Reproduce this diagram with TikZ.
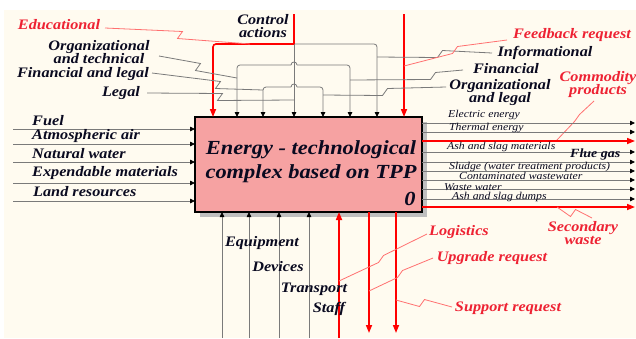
\documentclass[tikz,border=0pt]{standalone}
\usepackage{fontspec}
\setmainfont{Liberation Serif}[FakeStretch=1.12]
\usetikzlibrary{arrows.meta,calc}
\definecolor{bg}{HTML}{FFFBF0}
\definecolor{boxfill}{HTML}{F6A2A2}
\definecolor{lred}{HTML}{EE2233}
\definecolor{tred}{HTML}{FF7070}
\definecolor{lgray}{HTML}{7A7A7A}
\definecolor{ink}{HTML}{0A0A20}
\newcommand\zz[4]{\draw[#1] (#2) -- ($(#3)+(2.5,-3.5)$) -- ($(#3)+(-2.5,3.5)$) -- (#4);}
\begin{document}
\begin{tikzpicture}[x=1pt,y=-1pt,
  lbl/.style={font=\fontsize{14.5}{14}\selectfont\bfseries\itshape, text=ink, inner sep=0pt, align=center},
  rlbl/.style={lbl, text=lred},
  slbl/.style={font=\fontsize{10.5}{10}\selectfont\itshape, text=ink, inner sep=0pt, anchor=west},
  gline/.style={draw=lgray, line width=0.8pt},
  garrow/.style={gline, -{Triangle[length=5pt,width=4.5pt,color=black]}},
  rline/.style={draw=red, line width=1.6pt},
  rarrow/.style={rline, -{Triangle[length=8pt,width=6pt]}},
  tline/.style={draw=tred, line width=0.8pt},
]
\useasboundingbox (0,0) rectangle (636,338);
\fill[bg] (4,10) rectangle (636,338);

% shadow and box
\fill[gray!50] (200,212) rectangle (427,217);
\fill[gray!50] (422,122) rectangle (427,217);
\node[draw=black, line width=1.4pt, fill=boxfill, minimum width=227pt, minimum height=95pt,
      anchor=north west, inner sep=0pt, outer sep=0pt] (box) at (195,117) {};
\node[font=\fontsize{20}{24}\selectfont\bfseries\itshape, text=ink, align=center] (title) at (311,162)
  {Energy - technological\\complex based on TPP};
\node[font=\fontsize{20}{20}\selectfont\bfseries\itshape, text=ink] (num) at (410,199) {0};

% top arrow ends
\foreach \n/\x in {1/213,2/237,3/263,4/294,5/323,6/350,7/377,8/404}
  \coordinate (t\n) at (\x,117);
\coordinate (ca) at (294,14);
\coordinate (cj) at (294,44);
\coordinate (fb) at (404,14);
\coordinate (l2a) at (291,65); \coordinate (l2b) at (297,65);
\coordinate (l3a) at (291,87); \coordinate (l3b) at (297,87);

\draw[garrow] (cj) -- (t4);
\draw[garrow, rounded corners=3pt] (cj) -- (cj -| t7) -- (t7);
\draw[garrow, rounded corners=3pt] (l2a) -- (l2a -| t2) -- (t2);
\draw[gline] (l2a) .. controls (291,61) and (297,61) .. (l2b);
\draw[garrow, rounded corners=3pt] (l2b) -- (l2b -| t6) -- (t6);
\draw[garrow, rounded corners=3pt] (l3a) -- (l3a -| t3) -- (t3);
\draw[gline] (l3a) .. controls (291,83) and (297,83) .. (l3b);
\draw[garrow, rounded corners=3pt] (l3b) -- (l3b -| t5) -- (t5);
\draw[rline] (ca) -- (cj);
\draw[rarrow, rounded corners=3pt] (cj) -- (cj -| t1) -- (t1);
\draw[rarrow] (fb) -- (t8);

% top-left labels
\node[rlbl] (edu) at (59,25) {Educational};
\node[lbl] (ctl) at (263,26) {Control\\[-1pt]actions};
\node[lbl] (orgt) at (99,52) {Organizational\\[-1pt]and technical};
\node[lbl] (finl) at (83,74) {Financial and legal};
\node[lbl] (legal) at (121,93) {Legal};
% top-right labels
\node[rlbl] (feed) at (572,35) {Feedback request};
\node[lbl] (info) at (545,53) {Informational};
\node[lbl] (fin) at (506,69) {Financial};
\node[lbl] (orgl) at (500,93) {Organizational\\[-1pt]and legal};
\node[rlbl] (comm) at (598,85) {Commodity\\[-1pt]products};

% label connectors (top)
\coordinate (e0) at (105,28);  \coordinate (e1) at (250,44);
\coordinate (a0) at (159,56);  \coordinate (a1) at (237,78);
\coordinate (b0) at (152,73);  \coordinate (b1) at (263,90);
\coordinate (c0) at (147,93);  \coordinate (c1) at (294,100);
\coordinate (i0) at (492,53);  \coordinate (i1) at (377,57);
\coordinate (f0) at (463,70);  \coordinate (f1) at (350,80);
\coordinate (g0) at (446,87);  \coordinate (g1) at (323,95);
\coordinate (k0) at (507,40);  \coordinate (k1) at (404,66);
\coordinate (m0) at (594,101); \coordinate (m1) at (556,141);
\zz{tline}{e0}{180,35}{e1}
\zz{gline}{a0}{198,67}{a1}
\zz{gline}{b0}{218,85}{b1}
\zz{gline}{c0}{220,97}{c1}
\zz{gline}{i0}{440,54}{i1}
\zz{gline}{f0}{433,76}{f1}
\zz{gline}{g0}{385,92}{g1}
\zz{tline}{k0}{455,50}{k1}
\zz{tline}{m0}{577,118}{m1}

% left inputs
\foreach \i/\y in {1/129,2/144,3/162,4/183,5/201} {
  \coordinate (in\i) at (13,\y);
  \draw[garrow] (in\i) -- (in\i -| box.west);
}
\node[lbl, anchor=west] (fuel) at (32,121) {Fuel};
\node[lbl, anchor=west] (air) at (32,136) {Atmospheric air};
\node[lbl, anchor=west] (water) at (32,154) {Natural water};
\node[lbl, anchor=west] (exp) at (32,173) {Expendable materials};
\node[lbl, anchor=west] (land) at (33,192) {Land resources};

% right outputs
\foreach \i/\y in {1/123,2/132,3/152,4/162,5/171,6/180,7/189,8/199} {
  \coordinate (o\i) at (635,\y);
  \draw[garrow] (o\i -| box.east) -- (o\i);
}
\foreach \i/\y in {1/141,2/207} {
  \coordinate (ro\i) at (635,\y);
  \draw[rarrow] (ro\i -| box.east) -- (ro\i);
}
\node[slbl] (el) at (448,115) {Electric energy};
\node[slbl] (th) at (449,128) {Thermal energy};
\node[slbl] (ash) at (447,147) {Ash and slag materials};
\node[slbl, font=\fontsize{12.5}{12}\selectfont\bfseries\itshape] (flue) at (570,154) {Flue gas};
\node[slbl] (sl) at (449,167) {Sludge (water treatment products)};
\node[slbl] (cw) at (459,176) {Contaminated wastewater};
\node[slbl] (ww) at (444,187) {Waste water};
\node[slbl] (ad) at (452,197) {Ash and slag dumps};

% secondary waste
\node[rlbl] (sec) at (583,233) {Secondary\\[-1pt]waste};
\coordinate (s0) at (592,218); \coordinate (s1) at (557,207);
\zz{tline}{s0}{573,213}{s1}

% bottom
\foreach \i/\x in {1/222,2/249,3/279,4/309} {
  \coordinate (bm\i) at (\x,338);
  \draw[garrow] (bm\i) -- (bm\i |- box.south);
}
\coordinate (ru) at (339,338);
\draw[rarrow] (ru) -- (ru |- box.south);
\coordinate (rd1) at (369,333);
\coordinate (rd2) at (396,333);
\draw[rarrow] (rd1 |- box.south) -- (rd1);
\draw[rarrow] (rd2 |- box.south) -- (rd2);

\node[lbl] (equip) at (262,243) {Equipment};
\node[lbl] (dev) at (278,267) {Devices};
\node[lbl] (trans) at (314,289) {Transport};
\node[lbl] (staff) at (329,309) {Staff};

\node[rlbl] (log) at (459,232) {Logistics};
\node[rlbl] (upg) at (492,258) {Upgrade request};
\node[rlbl] (sup) at (508,308) {Support request};
\coordinate (p0) at (427,234); \coordinate (p1) at (339,281);
\coordinate (q0) at (433,258); \coordinate (q1) at (369,291);
\coordinate (r0) at (452,307); \coordinate (r1) at (396,300);
\zz{tline}{p0}{381,259}{p1}
\zz{tline}{q0}{400,274}{q1}
\zz{tline}{r0}{422,303}{r1}
\end{tikzpicture}
\end{document}
